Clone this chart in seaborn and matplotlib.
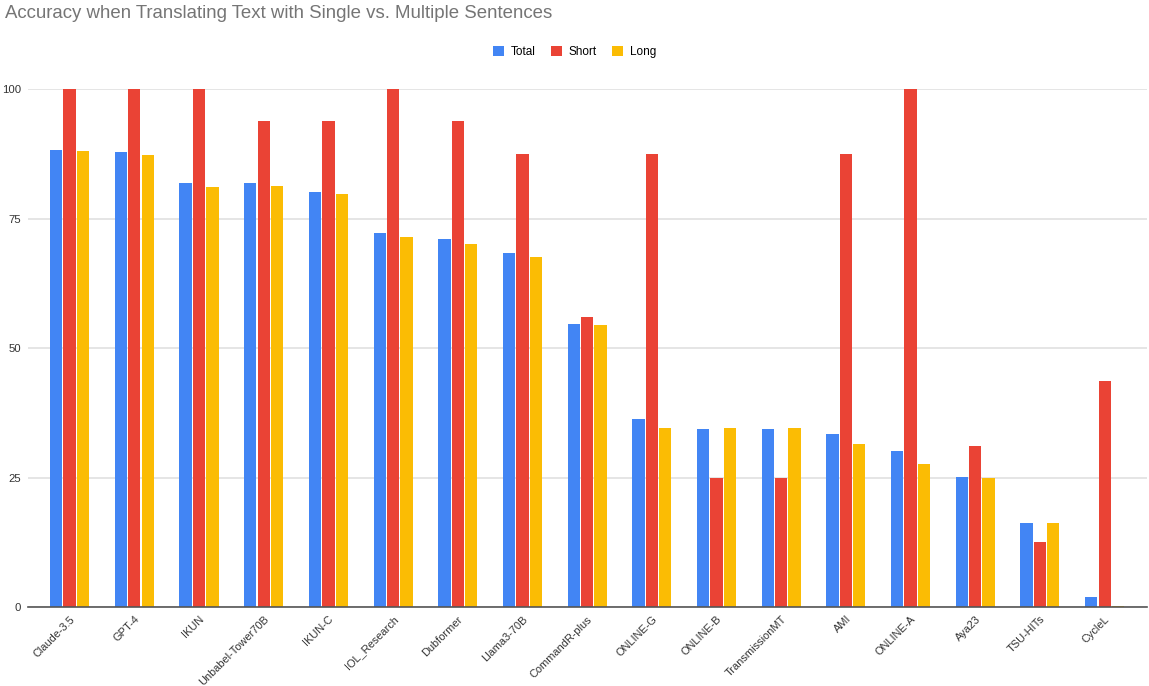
import matplotlib.pyplot as plt
import seaborn as sns
import pandas as pd

# 모델 이름
models = ['Claude-3.5', 'GPT-4', 'IKUN', 'Unbabel-Tower70B', 'IKUN-C', 'IOL_Research',
          'Dubformer', 'Llama3-70B', 'CommandR-plus', 'ONLINE-G', 'ONLINE-B',
          'TransmissionMT', 'AMI', 'ONLINE-A', 'Aya23', 'TSU-HITs', 'CycleL']

# 정확도 값
total = [88.3, 87.8, 81.8, 81.8, 80.2, 72.3, 71.0, 68.3, 54.6, 36.4, 34.3, 34.3, 33.4, 30.1, 25.1, 16.2, 1.9]
short = [100, 100, 100, 93.8, 93.8, 100, 93.8, 87.5, 56.0, 87.5, 25.0, 25.0, 87.5, 100, 31.2, 12.5, 43.6]
long_ = [88.0, 87.2, 81.1, 81.3, 79.7, 71.4, 70.2, 67.6, 54.4, 34.6, 34.6, 34.6, 31.4, 27.6, 25.0, 16.3, 0.3]

series = ['Total', 'Short', 'Long']
colors = ['#4285F4', '#EA4335', '#FBBC04']

df = pd.DataFrame({'model': models, 'Total': total, 'Short': short, 'Long': long_})
df_long = df.melt(id_vars='model', var_name='series', value_name='acc')

plt.rcParams['font.family'] = ['Liberation Sans', 'DejaVu Sans']

fig = plt.figure(figsize=(11.49, 6.86), dpi=100)
ax = fig.add_axes([0.024, 0.115, 0.974, 0.755])

sns.barplot(data=df_long, x='model', y='acc', hue='series', hue_order=series,
            palette=colors, width=0.62, gap=0.08, ax=ax, legend=True, saturation=1)

ax.set_ylim(0, 100)
ax.set_xlim(-0.65, 16.65)
ax.set_yticks([0, 25, 50, 75, 100])
ax.yaxis.grid(True, color='#e0e0e0', linewidth=1.2)
ax.set_axisbelow(True)
for s in ['top', 'right', 'left']:
    ax.spines[s].set_visible(False)
ax.spines['bottom'].set_color('#555555')
ax.spines['bottom'].set_linewidth(1.2)
ax.tick_params(length=0, colors='#333333')
ax.tick_params(axis='x', pad=5, labelsize=7.9)
ax.tick_params(axis='y', pad=4.5, labelsize=8.2)
ax.set_xlabel('')
ax.set_ylabel('')
plt.setp(ax.get_xticklabels(), rotation=45, ha='right', rotation_mode='anchor')

leg = ax.legend(loc='center', ncol=3, frameon=False, fontsize=8.5,
                handlelength=0.9, handleheight=0.9, columnspacing=1.3, handletextpad=0.6)
leg.set_bbox_to_anchor((0.5, 1 - 52 / 686), transform=fig.transFigure)

fig.text(0.004, 1 - 13 / 686, 'Accuracy when Translating Text with Single vs. Multiple Sentences',
         fontsize=13.4, color='#757575', va='center', ha='left')

fig.savefig('out.png', dpi=100)
